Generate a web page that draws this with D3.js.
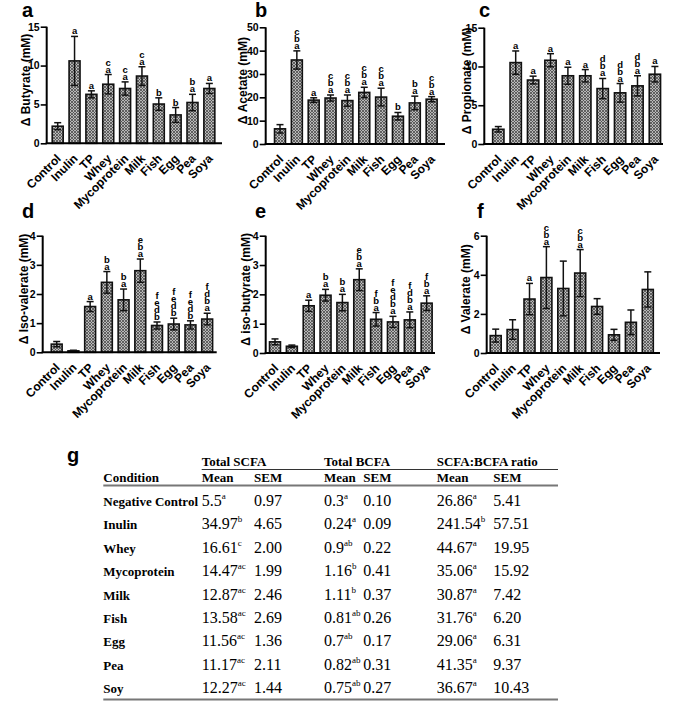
<!DOCTYPE html>
<html>
<head>
<meta charset="utf-8">
<script src="https://cdn.jsdelivr.net/npm/d3@7"></script>
<style>
  body { margin: 0; background: #fff; }
  svg { display: block; }
</style>
</head>
<body>
<div id="fig"></div>
<script>
// DATA =========================================
const categories = ["Control", "Inulin", "TP", "Whey", "Mycoprotein", "Milk", "Fish", "Egg", "Pea", "Soya"];

const butyrateMean = [2.2, 10.6, 6.3, 7.6, 7.05, 8.65, 5.05, 3.65, 5.25, 7.05];
const butyrateSem = [0.45, 3.15, 0.45, 1.25, 0.85, 1.2, 0.8, 0.95, 1.05, 0.65];
const butyrateLetters = ["", "a", "a", "ac", "ac", "ac", "b", "b", "ab", "a"];

const acetateMean = [6.5, 36, 18.8, 19.7, 18.6, 22.1, 20.1, 11.9, 17.6, 19.2];
const acetateSem = [1.8, 3.9, 1.0, 1.3, 2.4, 2.2, 3.8, 1.6, 2.9, 1.1];
const acetateLetters = ["", "abc", "a", "abc", "abc", "abc", "abc", "b", "ab", "abc"];

const propionateMean = [1.9, 10.5, 8.25, 10.8, 8.8, 8.8, 7.15, 6.6, 7.5, 9.0];
const propionateSem = [0.35, 1.5, 0.5, 0.85, 1.1, 0.8, 1.3, 1.2, 1.3, 1.0];
const propionateLetters = ["", "a", "a", "a", "a", "a", "abd", "abd", "abd", "a"];

const isoValerateMean = [0.28, 0.05, 1.57, 2.4, 1.8, 2.8, 0.92, 0.97, 0.94, 1.14];
const isoValerateSem = [0.09, 0.02, 0.17, 0.37, 0.37, 0.4, 0.12, 0.2, 0.14, 0.2];
const isoValerateLetters = ["", "", "a", "ab", "ab", "abe", "bdef", "bdef", "bdef", "abdf"];

const isoButyrateMean = [0.38, 0.23, 1.61, 1.97, 1.72, 2.5, 1.15, 1.06, 1.13, 1.7];
const isoButyrateSem = [0.1, 0.04, 0.19, 0.2, 0.28, 0.37, 0.23, 0.19, 0.27, 0.25];
const isoButyrateLetters = ["", "", "a", "ab", "ab", "abe", "abf", "abdef", "abdf", "abf"];

const valerateMean = [0.89, 1.2, 2.76, 3.86, 3.3, 4.09, 2.38, 0.93, 1.57, 3.25];
const valerateSem = [0.33, 0.5, 0.8, 1.58, 1.4, 1.2, 0.4, 0.28, 0.63, 0.9];
const valerateLetters = ["", "", "a", "abc", "", "abc", "", "", "", ""];

// table (g)
const tableConditions = ["Negative Control", "Inulin", "Whey", "Mycoprotein", "Milk", "Fish", "Egg", "Pea", "Soy"];
const scfaMean = ["5.5", "34.97", "16.61", "14.47", "12.87", "13.58", "11.56", "11.17", "12.27"];
const scfaSup = ["a", "b", "c", "ac", "ac", "ac", "ac", "ac", "ac"];
const scfaSem = ["0.97", "4.65", "2.00", "1.99", "2.46", "2.69", "1.36", "2.11", "1.44"];
const bcfaMean = ["0.3", "0.24", "0.9", "1.16", "1.11", "0.81", "0.7", "0.82", "0.75"];
const bcfaSup = ["a", "a", "ab", "b", "b", "ab", "ab", "ab", "ab"];
const bcfaSem = ["0.10", "0.09", "0.22", "0.41", "0.37", "0.26", "0.17", "0.31", "0.27"];
const ratioMean = ["26.86", "241.54", "44.67", "35.06", "30.87", "31.76", "29.06", "41.35", "36.67"];
const ratioSup = ["a", "b", "a", "a", "a", "a", "a", "a", "a"];
const ratioSem = ["5.41", "57.51", "19.95", "15.92", "7.42", "6.20", "6.31", "9.37", "10.43"];

// LAYOUT =======================================
const W = 685, H = 710;
const sans = "'Liberation Sans', Arial, sans-serif";
const serif = "'Liberation Serif', 'Times New Roman', serif";

const panels = [
  { tag: "a", title: "\u0394 Butyrate (mM)", mean: butyrateMean, sem: butyrateSem, letters: butyrateLetters,
    yMax: 15, yStep: 5, left: 46.7, right: 222, top: 26.7, bottom: 143.3, first: 57.7, step: 16.85,
    tagX: 22, titleX: 30 },
  { tag: "b", title: "\u0394 Acetate (mM)", mean: acetateMean, sem: acetateSem, letters: acetateLetters,
    yMax: 50, yStep: 10, left: 265.7, right: 445, top: 27.3, bottom: 144, first: 280, step: 16.85,
    tagX: 255, titleX: 247 },
  { tag: "c", title: "\u0394 Propionate (mM)", mean: propionateMean, sem: propionateSem, letters: propionateLetters,
    yMax: 15, yStep: 5, left: 484.3, right: 663, top: 27.7, bottom: 144, first: 498.3, step: 17.4,
    tagX: 479, titleX: 471 },
  { tag: "d", title: "\u0394 Iso-valerate (mM)", mean: isoValerateMean, sem: isoValerateSem, letters: isoValerateLetters,
    yMax: 4, yStep: 1, left: 42.7, right: 216.7, top: 235.7, bottom: 352.3, first: 56.7, step: 16.72,
    tagX: 22, titleX: 28 },
  { tag: "e", title: "\u0394 iso-butyrate (mM)", mean: isoButyrateMean, sem: isoButyrateSem, letters: isoButyrateLetters,
    yMax: 4, yStep: 1, left: 265.7, right: 435, top: 235.7, bottom: 353, first: 275, step: 16.85,
    tagX: 255, titleX: 250 },
  { tag: "f", title: "\u0394 Valerate (mM)", mean: valerateMean, sem: valerateSem, letters: valerateLetters,
    yMax: 6, yStep: 2, left: 486.7, right: 660, top: 235.7, bottom: 353, first: 495.7, step: 16.9,
    tagX: 477, titleX: 470 }
];

const svg = d3.select("#fig").append("svg")
  .attr("width", W)
  .attr("height", H)
  .attr("viewBox", `0 0 ${W} ${H}`);

svg.append("rect").attr("width", W).attr("height", H).attr("fill", "#fff");

// crosshatch fill for the bars
const defs = svg.append("defs");
const pat = defs.append("pattern")
  .attr("id", "hatch")
  .attr("patternUnits", "userSpaceOnUse")
  .attr("width", 3)
  .attr("height", 3);
pat.append("rect").attr("width", 3).attr("height", 3).attr("fill", "#b8b8b8");
pat.append("path")
  .attr("d", "M0,0 L3,3 M3,0 L0,3")
  .attr("stroke", "#4a4a4a")
  .attr("stroke-width", 0.8);

// BAR PANELS ===================================
panels.forEach(p => {
  const g = svg.append("g");

  const x = d3.scaleBand()
    .domain(categories)
    .range([p.first - p.step / 2, p.first - p.step / 2 + p.step * categories.length])
    .paddingInner(0.35)
    .paddingOuter(0.175);

  const y = d3.scaleLinear()
    .domain([0, p.yMax])
    .range([p.bottom, p.top]);

  const rows = categories.map((c, i) => ({ cat: c, mean: p.mean[i], sem: p.sem[i], letters: p.letters[i] }));
  const cx = d => x(d.cat) + x.bandwidth() / 2;

  // bars
  g.selectAll("rect.bar")
    .data(rows)
    .join("rect")
    .attr("class", "bar")
    .attr("x", d => x(d.cat))
    .attr("y", d => y(d.mean))
    .attr("width", x.bandwidth())
    .attr("height", d => y(0) - y(d.mean))
    .attr("fill", "url(#hatch)")
    .attr("stroke", "#111")
    .attr("stroke-width", 1.6);

  // error bars
  const cap = 3.5;
  const eb = g.selectAll("g.err")
    .data(rows)
    .join("g")
    .attr("class", "err")
    .attr("stroke", "#111")
    .attr("stroke-width", 1.5);

  eb.append("line")
    .attr("x1", cx).attr("x2", cx)
    .attr("y1", d => y(Math.max(0, d.mean - d.sem)))
    .attr("y2", d => y(d.mean + d.sem));
  eb.append("line")
    .attr("x1", d => cx(d) - cap).attr("x2", d => cx(d) + cap)
    .attr("y1", d => y(d.mean + d.sem))
    .attr("y2", d => y(d.mean + d.sem));
  eb.append("line")
    .attr("x1", d => cx(d) - cap).attr("x2", d => cx(d) + cap)
    .attr("y1", d => y(Math.max(0, d.mean - d.sem)))
    .attr("y2", d => y(Math.max(0, d.mean - d.sem)));

  // significance letters, stacked bottom-up
  rows.forEach(d => {
    d.letters.split("").forEach((ch, k) => {
      g.append("text")
        .attr("x", cx(d))
        .attr("y", y(d.mean + d.sem) - 2 - k * 7)
        .attr("text-anchor", "middle")
        .style("font-family", sans)
        .style("font-weight", "bold")
        .style("font-size", "9.5px")
        .text(ch);
    });
  });

  // y axis
  const yAxis = g.append("g")
    .attr("transform", `translate(${p.left},0)`)
    .call(d3.axisLeft(y)
      .tickValues(d3.range(0, p.yMax + 0.001, p.yStep))
      .tickFormat(d3.format("d"))
      .tickSize(6)
      .tickPadding(1));
  yAxis.select(".domain").attr("stroke-width", 2).attr("d", `M0,${p.top}V${p.bottom}`);
  yAxis.selectAll(".tick line").attr("stroke-width", 1.6);
  yAxis.selectAll("text")
    .style("font-family", sans)
    .style("font-weight", "bold")
    .style("font-size", "10.5px")
    .attr("fill", "#000");

  // x axis
  const xAxis = g.append("g")
    .attr("transform", `translate(0,${p.bottom})`)
    .call(d3.axisBottom(x).tickSize(0).tickPadding(0));
  xAxis.select(".domain").remove();
  xAxis.selectAll("text")
    .style("font-family", sans)
    .style("font-weight", "bold")
    .style("font-size", "12px")
    .attr("fill", "#000")
    .attr("text-anchor", "end")
    .attr("dy", null)
    .attr("y", 0)
    .attr("transform", "translate(4,16) rotate(-45)");
  g.append("line")
    .attr("x1", p.left - 1)
    .attr("x2", p.right)
    .attr("y1", p.bottom)
    .attr("y2", p.bottom)
    .attr("stroke", "#000")
    .attr("stroke-width", 2);

  // y title
  g.append("text")
    .attr("transform", `translate(${p.titleX},${(p.top + p.bottom) / 2 - 5}) rotate(-90)`)
    .attr("text-anchor", "middle")
    .style("font-family", sans)
    .style("font-weight", "bold")
    .style("font-size", "12px")
    .text(p.title);

  // panel tag
  svg.append("text")
    .attr("x", p.tagX)
    .attr("y", p.top < 100 ? 17 : 218)
    .style("font-family", sans)
    .style("font-weight", "bold")
    .style("font-size", "20px")
    .text(p.tag);
});

// TABLE (g) ====================================
const tbl = svg.append("g");
const colX = { cond: 103.3, sMean: 201.7, sSem: 254, bMean: 324, bSem: 363.3, rMean: 436.7, rSem: 493.3 };
const tableRight = 558;
const rowY = d3.scaleLinear().domain([0, tableConditions.length - 1]).range([505.7, 693.3]);

tbl.append("text")
  .attr("x", 67).attr("y", 462)
  .style("font-family", sans)
  .style("font-weight", "bold")
  .style("font-size", "20px")
  .text("g");

const boldText = (x, y, s) => tbl.append("text")
  .attr("x", x).attr("y", y)
  .style("font-family", serif)
  .style("font-weight", "bold")
  .style("font-size", "13px")
  .text(s);

boldText(colX.sMean, 466, "Total SCFA");
boldText(colX.bMean, 466, "Total BCFA");
boldText(colX.rMean, 466, "SCFA:BCFA ratio");
tbl.append("line")
  .attr("x1", colX.sMean).attr("x2", tableRight)
  .attr("y1", 469.5).attr("y2", 469.5)
  .attr("stroke", "#333").attr("stroke-width", 1);

boldText(colX.cond, 482.3, "Condition");
[["sMean", "Mean"], ["sSem", "SEM"], ["bMean", "Mean"], ["bSem", "SEM"], ["rMean", "Mean"], ["rSem", "SEM"]]
  .forEach(([k, s]) => boldText(colX[k], 482.3, s));
tbl.append("line")
  .attr("x1", colX.cond).attr("x2", tableRight)
  .attr("y1", 485.6).attr("y2", 485.6)
  .attr("stroke", "#777").attr("stroke-width", 2);

const valueText = (x, y, s, sup) => {
  const t = tbl.append("text")
    .attr("x", x).attr("y", y)
    .style("font-family", serif)
    .style("font-size", "16px")
    .text(s);
  if (sup) {
    t.append("tspan")
      .attr("dy", -7)
      .style("font-size", "9px")
      .text(sup);
  }
};

tableConditions.forEach((c, i) => {
  const yy = rowY(i);
  boldText(colX.cond, yy, c);
  valueText(colX.sMean, yy, scfaMean[i], scfaSup[i]);
  valueText(colX.sSem, yy, scfaSem[i]);
  valueText(colX.bMean, yy, bcfaMean[i], bcfaSup[i]);
  valueText(colX.bSem, yy, bcfaSem[i]);
  valueText(colX.rMean, yy, ratioMean[i], ratioSup[i]);
  valueText(colX.rSem, yy, ratioSem[i]);
});

tbl.append("line")
  .attr("x1", colX.cond).attr("x2", tableRight)
  .attr("y1", 699.5).attr("y2", 699.5)
  .attr("stroke", "#777").attr("stroke-width", 2);
</script>
</body>
</html>
